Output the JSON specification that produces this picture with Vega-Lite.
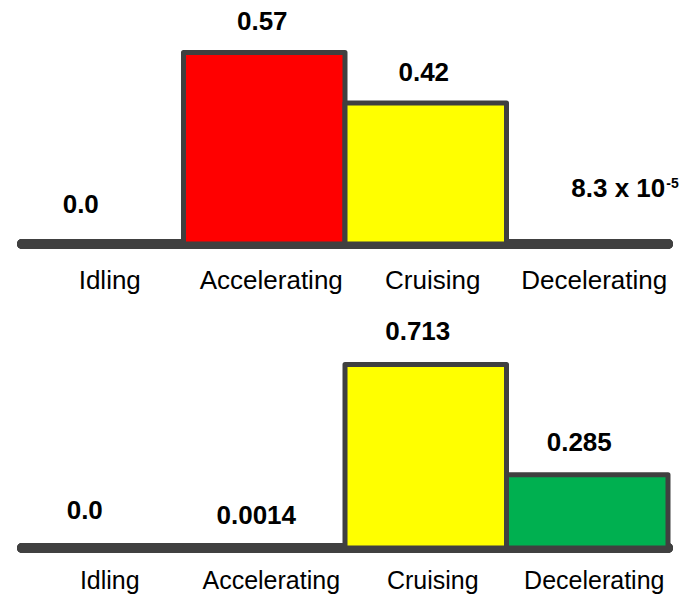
{
  "$schema": "https://vega.github.io/schema/vega-lite/v6.json",
  "padding": {"left": 17, "right": 13, "top": 0, "bottom": 0},
  "spacing": 0,
  "background": "white",
  "config": {"view": {"stroke": null}, "font": "Liberation Sans", "text": {"font": "Liberation Sans", "color": "#000000"}},
  "datasets": {
    "top": [
      {"cat": "Idling", "value": 0, "label": "0.0"},
      {"cat": "Accelerating", "value": 0.57, "label": "0.57"},
      {"cat": "Cruising", "value": 0.42, "label": "0.42"},
      {"cat": "Decelerating", "value": 0.000083, "label": "8.3 x 10", "sup": "-5"}
    ],
    "bottom": [
      {"cat": "Idling", "value": 0, "label": "0.0"},
      {"cat": "Accelerating", "value": 0.0014, "label": "0.0014"},
      {"cat": "Cruising", "value": 0.713, "label": "0.713"},
      {"cat": "Decelerating", "value": 0.285, "label": "0.285"}
    ]
  },
  "vconcat": [
    {
      "data": {"name": "top"},
      "width": 646,
      "height": 300,
      "layer": [
        {
          "mark": {"type": "rule", "color": "#404040", "strokeWidth": 10, "strokeCap": "round"},
          "encoding": {"y": {"datum": 0, "type": "quantitative", "scale": {"domain": [-0.1667, 0.7262], "nice": false, "zero": false}, "axis": null}}
        },
        {
          "mark": {"type": "bar", "stroke": "#404040", "strokeWidth": 5, "strokeJoin": "round"},
          "encoding": {
            "x": {"field": "cat", "type": "nominal", "sort": ["Idling", "Accelerating", "Cruising", "Decelerating"], "scale": {"paddingInner": 0, "paddingOuter": 0}, "axis": null},
            "y": {"field": "value", "type": "quantitative", "scale": {"domain": [-0.1667, 0.7262], "nice": false, "zero": false}, "axis": null},
            "y2": {"datum": 0},
            "color": {"field": "cat", "type": "nominal", "scale": {"domain": ["Idling", "Accelerating", "Cruising", "Decelerating"], "range": ["#404040", "#ff0000", "#ffff00", "#00b050"]}, "legend": null}
          }
        },
        {
          "mark": {"type": "text", "fontSize": 26, "baseline": "alphabetic", "dy": 45, "dx": 7},
          "encoding": {
            "x": {"field": "cat", "type": "nominal", "sort": ["Idling", "Accelerating", "Cruising", "Decelerating"], "axis": null},
            "y": {"datum": 0, "type": "quantitative"},
            "text": {"field": "cat"}
          }
        },
        {
          "transform": [{"filter": "datum.cat !== 'Idling' && !datum.sup"}],
          "mark": {"type": "text", "fontSize": 26, "fontWeight": "bold", "baseline": "alphabetic", "dy": -22, "dx": -2},
          "encoding": {
            "x": {"field": "cat", "type": "nominal", "sort": ["Idling", "Accelerating", "Cruising", "Decelerating"], "axis": null},
            "y": {"field": "value", "type": "quantitative"},
            "text": {"field": "label"}
          }
        },
        {
          "transform": [{"filter": "datum.cat === 'Idling'"}],
          "mark": {"type": "text", "fontSize": 26, "fontWeight": "bold", "baseline": "alphabetic", "dy": -31, "dx": -22},
          "encoding": {
            "x": {"field": "cat", "type": "nominal", "sort": ["Idling", "Accelerating", "Cruising", "Decelerating"], "axis": null},
            "y": {"field": "value", "type": "quantitative"},
            "text": {"field": "label"}
          }
        },
        {
          "transform": [{"filter": "datum.sup"}],
          "mark": {"type": "text", "fontSize": 26, "fontWeight": "bold", "baseline": "alphabetic", "align": "right", "dy": -47, "dx": 78},
          "encoding": {
            "x": {"field": "cat", "type": "nominal", "sort": ["Idling", "Accelerating", "Cruising", "Decelerating"], "axis": null},
            "y": {"field": "value", "type": "quantitative"},
            "text": {"field": "label"}
          }
        },
        {
          "transform": [{"filter": "datum.sup"}],
          "mark": {"type": "text", "fontSize": 14, "fontWeight": "bold", "baseline": "alphabetic", "align": "left", "dy": -56, "dx": 79},
          "encoding": {
            "x": {"field": "cat", "type": "nominal", "sort": ["Idling", "Accelerating", "Cruising", "Decelerating"], "axis": null},
            "y": {"field": "value", "type": "quantitative"},
            "text": {"field": "sup"}
          }
        }
      ]
    },
    {
      "data": {"name": "bottom"},
      "width": 646,
      "height": 296,
      "layer": [
        {
          "mark": {"type": "rule", "color": "#404040", "strokeWidth": 10, "strokeCap": "round"},
          "encoding": {"y": {"datum": 0, "type": "quantitative", "scale": {"domain": [-0.1865, 0.9635], "nice": false, "zero": false}, "axis": null}}
        },
        {
          "mark": {"type": "bar", "stroke": "#404040", "strokeWidth": 5, "strokeJoin": "round"},
          "encoding": {
            "x": {"field": "cat", "type": "nominal", "sort": ["Idling", "Accelerating", "Cruising", "Decelerating"], "scale": {"paddingInner": 0, "paddingOuter": 0}, "axis": null},
            "y": {"field": "value", "type": "quantitative", "scale": {"domain": [-0.1865, 0.9635], "nice": false, "zero": false}, "axis": null},
            "y2": {"datum": 0},
            "color": {"field": "cat", "type": "nominal", "scale": {"domain": ["Idling", "Accelerating", "Cruising", "Decelerating"], "range": ["#404040", "#ff0000", "#ffff00", "#00b050"]}, "legend": null}
          }
        },
        {
          "mark": {"type": "text", "fontSize": 25, "baseline": "alphabetic", "dy": 41, "dx": 7},
          "encoding": {
            "x": {"field": "cat", "type": "nominal", "sort": ["Idling", "Accelerating", "Cruising", "Decelerating"], "axis": null},
            "y": {"datum": 0, "type": "quantitative"},
            "text": {"field": "cat"}
          }
        },
        {
          "transform": [{"filter": "datum.cat !== 'Idling'"}],
          "mark": {"type": "text", "fontSize": 26, "fontWeight": "bold", "baseline": "alphabetic", "dy": -24, "dx": -8},
          "encoding": {
            "x": {"field": "cat", "type": "nominal", "sort": ["Idling", "Accelerating", "Cruising", "Decelerating"], "axis": null},
            "y": {"field": "value", "type": "quantitative"},
            "text": {"field": "label"}
          }
        },
        {
          "transform": [{"filter": "datum.cat === 'Idling'"}],
          "mark": {"type": "text", "fontSize": 26, "fontWeight": "bold", "baseline": "alphabetic", "dy": -29, "dx": -18},
          "encoding": {
            "x": {"field": "cat", "type": "nominal", "sort": ["Idling", "Accelerating", "Cruising", "Decelerating"], "axis": null},
            "y": {"field": "value", "type": "quantitative"},
            "text": {"field": "label"}
          }
        }
      ]
    }
  ]
}
